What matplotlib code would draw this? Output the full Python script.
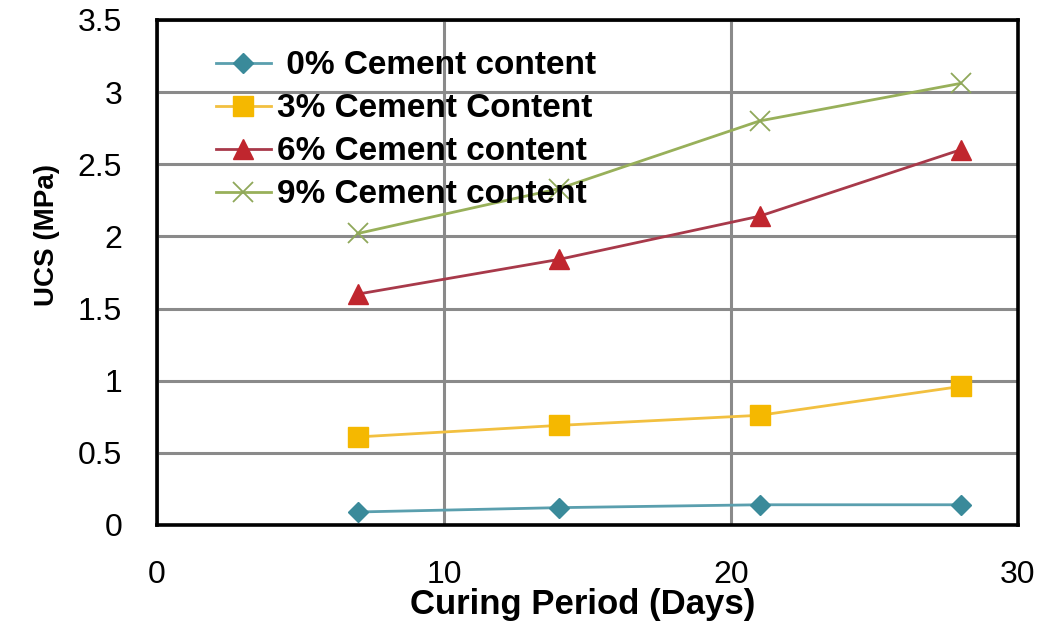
import matplotlib.pyplot as plt
import numpy as np

days = [7, 14, 21, 28]
ucs_0 = [0.09, 0.12, 0.14, 0.14]
ucs_3 = [0.61, 0.69, 0.76, 0.96]
ucs_6 = [1.60, 1.84, 2.14, 2.60]
ucs_9 = [2.02, 2.33, 2.80, 3.06]
labels = [' 0% Cement content', '3% Cement Content', '6% Cement content', '9% Cement content']

plt.rcParams['font.family'] = ['Liberation Sans', 'DejaVu Sans']

fig = plt.figure(figsize=(10.43, 6.22), dpi=100)
ax = fig.add_axes([0.1505, 0.156, 0.8255, 0.812])

ax.plot(days, ucs_0, '-', color='#5A9FAE', lw=2, marker='D', ms=10,
        mfc='#3A8A9A', mec='#3A8A9A', label=labels[0], zorder=3)
ax.plot(days, ucs_3, '-', color='#F2C040', lw=2, marker='s', ms=15,
        mfc='#F5B800', mec='#F5B800', label=labels[1], zorder=3)
ax.plot(days, ucs_6, '-', color='#A8394A', lw=2, marker='^', ms=14,
        mfc='#C0262E', mec='#C0262E', label=labels[2], zorder=3)
ax.plot(days, ucs_9, '-', color='#98B05A', lw=2, marker='x', ms=14,
        mew=1.3, mec='#8FA85A', label=labels[3], zorder=3)

ax.set_xlim(0, 30)
ax.set_ylim(0, 3.5)
ax.set_xticks([0, 10, 20, 30])
ax.set_yticks(np.arange(0, 3.6, 0.5))
ax.set_yticklabels(['0', '0.5', '1', '1.5', '2', '2.5', '3', '3.5'])
ax.tick_params(axis='y', length=0, pad=25, labelsize=23)
ax.tick_params(axis='x', length=0, pad=25, labelsize=23)
ax.grid(True, color='#8a8a8a', lw=2.2)
ax.set_axisbelow(True)
for s in ax.spines.values():
    s.set_linewidth(2.6)
    s.set_color('black')

ax.set_xlabel('Curing Period (Days)', fontsize=25, fontweight='bold')
ax.xaxis.set_label_coords(0.495, -0.125)
ax.set_ylabel('UCS (MPa)', fontsize=20, fontweight='bold')
ax.yaxis.set_label_coords(-0.113, 0.575)

ax.legend(loc='upper left', bbox_to_anchor=(0.068, 0.94), frameon=False,
          prop={'weight': 'bold', 'size': 24}, handlelength=1.65,
          handletextpad=0.2, labelspacing=0.36, borderaxespad=0, borderpad=0)

plt.savefig('out.png', dpi=100)
